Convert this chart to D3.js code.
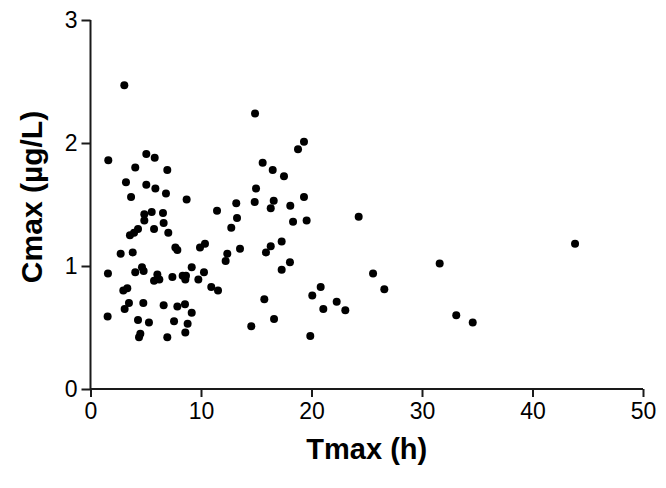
<!DOCTYPE html>
<html>
<head>
<meta charset="utf-8">
<script src="https://cdn.jsdelivr.net/npm/d3@7"></script>
<style>
  html, body { margin: 0; padding: 0; background: #fff; }
  svg { display: block; }
</style>
</head>
<body>
<svg id="chart" width="666" height="488"></svg>
<script>
// Data
const tmax = [3.06,1.61,5.05,5.81,4.05,6.95,3.21,5.05,5.87,6.83,3.67,8.70,11.45,5.54,4.87,6.56,4.87,6.62,4.30,5.75,
  3.94,3.57,7.04,7.68,7.86,10.36,9.91,2.73,3.82,1.58,4.05,4.66,4.81,6.05,5.75,6.23,7.41,8.34,8.64,8.58,
  9.16,9.76,10.27,10.93,11.54,2.97,3.33,3.48,3.09,4.78,6.62,7.86,8.55,9.16,1.55,4.30,5.29,7.56,8.79,4.51,
  4.39,6.95,8.58,14.89,19.32,18.78,15.58,16.49,17.51,14.98,13.19,14.86,16.58,16.31,19.32,18.08,13.26,12.74,18.33,19.56,
  13.53,16.31,17.30,12.38,12.23,15.88,18.05,17.30,15.73,16.61,14.55,20.83,20.07,22.28,21.07,19.89,24.27,25.57,26.59,23.06,
  31.60,33.10,34.59,43.85];
const cmax = [2.47,1.86,1.91,1.88,1.80,1.78,1.68,1.66,1.63,1.59,1.56,1.54,1.45,1.44,1.42,1.43,1.37,1.35,1.30,1.30,
  1.27,1.25,1.27,1.15,1.13,1.18,1.15,1.10,1.11,0.94,0.95,0.99,0.96,0.93,0.88,0.89,0.91,0.92,0.92,0.89,
  0.99,0.89,0.95,0.83,0.80,0.80,0.82,0.70,0.65,0.70,0.68,0.67,0.69,0.62,0.59,0.56,0.54,0.55,0.53,0.45,
  0.42,0.42,0.46,2.24,2.01,1.95,1.84,1.78,1.73,1.63,1.51,1.52,1.53,1.47,1.56,1.49,1.39,1.31,1.36,1.37,
  1.14,1.16,1.20,1.10,1.04,1.11,1.03,0.97,0.73,0.57,0.51,0.83,0.76,0.71,0.65,0.43,1.40,0.94,0.81,0.64,
  1.02,0.60,0.54,1.18];
const xTicks = [0,10,20,30,40,50];
const yTicks = [0,1,2,3];
const xTitle = "Tmax (h)";
const yTitle = "Cmax (\u00b5g/L)";

const svg = d3.select("#chart");
const mLeft = 90.5, mRight = 643, mTop = 20, mBottom = 389;
const x = d3.scaleLinear().domain([0, 50]).range([mLeft, mRight]);
const y = d3.scaleLinear().domain([0, 3]).range([mBottom, mTop]);
const font = "'Liberation Sans', Arial, Helvetica, sans-serif";
const axisColor = "#1a1a1a";

const xAxis = svg.append("g").attr("transform", `translate(0,${mBottom})`)
  .call(d3.axisBottom(x).tickValues(xTicks).tickSize(8).tickPadding(6).tickFormat(d3.format("d")));
const yAxis = svg.append("g").attr("transform", `translate(${mLeft},0)`)
  .call(d3.axisLeft(y).tickValues(yTicks).tickSize(9).tickPadding(4).tickFormat(d3.format("d")));

[xAxis, yAxis].forEach(g => {
  g.select(".domain").attr("stroke", axisColor).attr("stroke-width", 2);
  g.selectAll(".tick line").attr("stroke", axisColor).attr("stroke-width", 2);
  g.selectAll(".tick text").attr("fill", "#000").style("font-family", font).style("font-size", "23px");
});
xAxis.select(".domain").attr("d", `M${mLeft},0H${mRight}`);
yAxis.select(".domain").attr("d", `M0,${mBottom}V${mTop}`);

svg.append("g").selectAll("circle")
  .data(tmax.map((t, i) => [t, cmax[i]]))
  .join("circle")
  .attr("cx", d => x(d[0]))
  .attr("cy", d => y(d[1]))
  .attr("r", 4)
  .attr("fill", "#000");

svg.append("text")
  .attr("x", (mLeft + mRight) / 2)
  .attr("y", 459)
  .attr("text-anchor", "middle")
  .style("font-family", font).style("font-weight", "bold").style("font-size", "29px")
  .text(xTitle);

svg.append("text")
  .attr("transform", `translate(42,197) rotate(-90)`)
  .attr("text-anchor", "middle")
  .style("font-family", font).style("font-weight", "bold").style("font-size", "30px")
  .text(yTitle);
</script>
</body>
</html>
